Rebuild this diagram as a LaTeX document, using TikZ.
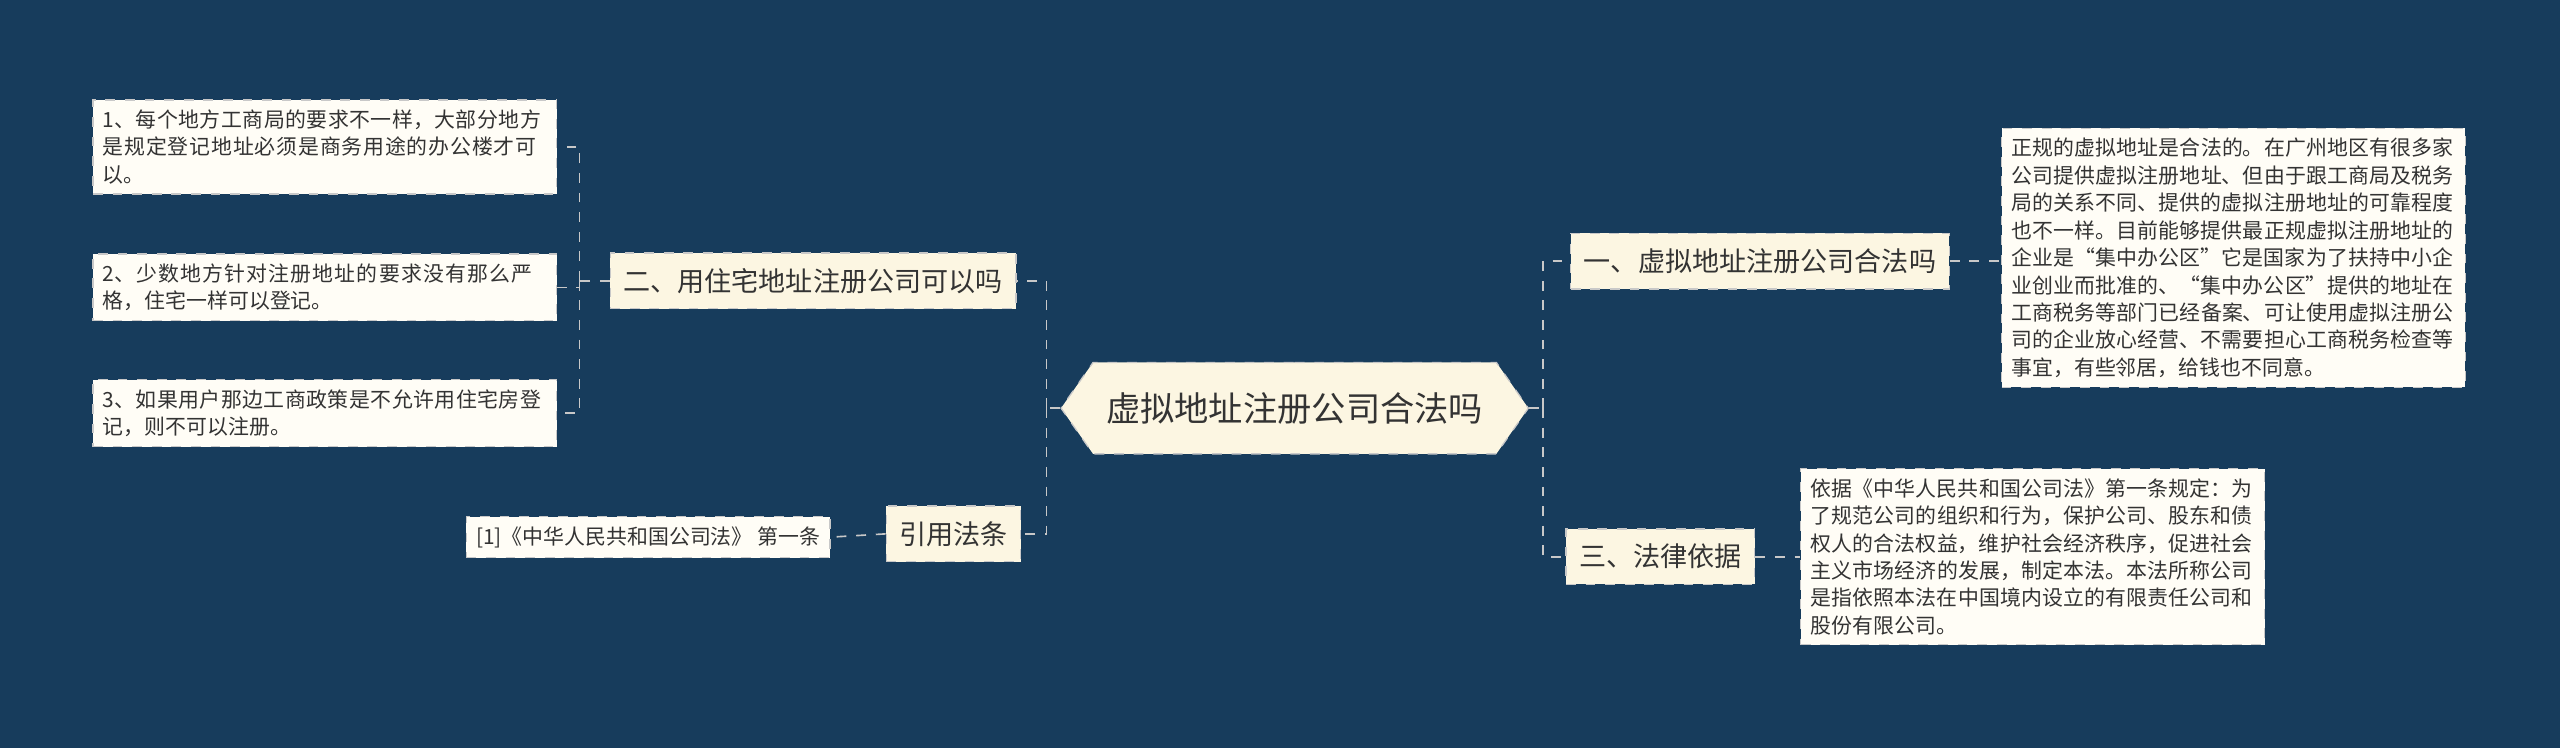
\documentclass[tikz,border=0pt]{standalone}
\usepackage{fontspec}
\setmainfont{Noto Sans CJK SC}
\XeTeXlinebreaklocale "zh"
\XeTeXlinebreakskip=0pt plus 1pt
\usetikzlibrary{shapes.symbols}
\definecolor{bg}{HTML}{173C5C}
\definecolor{cream}{HTML}{FCF6E2}
\definecolor{leaf}{HTML}{FFFDF6}
\definecolor{ln}{HTML}{C8C8C8}
\definecolor{tx}{HTML}{333333}
\tikzset{
 x=0.5pt,y=-0.5pt,
 br/.style={draw=ln,dashed,fill=cream,text=tx,font=\fontsize{8.3}{10}\selectfont,inner xsep=4pt,minimum height=17pt},
 lf/.style={draw=ln,dashed,fill=leaf,text=tx,font=\fontsize{6.4}{8.4}\selectfont,align=left,inner sep=3pt,text width=#1},
 con/.style={draw=ln,dashed,line width=0.5pt}
}
\begin{document}
\begin{tikzpicture}
\fill[bg] (0,0) rectangle (1568,458);
\useasboundingbox (0,0) rectangle (1568,458);
\node[draw=ln,dashed,fill=cream,text=tx,font=\fontsize{10.5}{12}\selectfont,shape=signal,signal to=west and east,signal pointer angle=110,minimum height=28pt,inner xsep=4pt] (c) at (793,250) {虚拟地址注册公司合法吗};
\node[br] (b1) at (498,172) {二、用住宅地址注册公司可以吗};
\node[br] (b2) at (584,327) {引用法条};
\node[br] (b3) at (1078,160) {一、虚拟地址注册公司合法吗};
\node[br] (b4) at (1017,341) {三、法律依据};
\node[lf=136pt] (l1) at (199,90) {1、每个地方工商局的要求不一样，大部分地方是规定登记地址必须是商务用途的办公楼才可以。};
\node[lf=136pt] (l2) at (199,176) {2、少数地方针对注册地址的要求没有那么严格，住宅一样可以登记。};
\node[lf=136pt] (l3) at (199,253) {3、如果用户那边工商政策是不允许用住宅房登记，则不可以注册。};
\node[draw=ln,dashed,fill=leaf,text=tx,font=\fontsize{6.4}{8.4}\selectfont,inner sep=3pt] (l4) at (397,329) {[1]《中华人民共和国公司法》 第一条};
\node[lf=136pt] (r1) at (1368,158) {正规的虚拟地址是合法的。在广州地区有很多家公司提供虚拟注册地址、但由于跟工商局及税务局的关系不同、提供的虚拟注册地址的可靠程度也不一样。目前能够提供最正规虚拟注册地址的企业是“集中办公区”它是国家为了扶持中小企业创业而批准的、“集中办公区”提供的地址在工商税务等部门已经备案、可让使用虚拟注册公司的企业放心经营、不需要担心工商税务检查等事宜，有些邻居，给钱也不同意。};
\node[lf=136pt] (r2) at (1245,341) {依据《中华人民共和国公司法》第一条规定：为了规范公司的组织和行为，保护公司、股东和债权人的合法权益，维护社会经济秩序，促进社会主义市场经济的发展，制定本法。本法所称公司是指依照本法在中国境内设立的有限责任公司和股份有限公司。};
\coordinate (cl) at (641,250);
\coordinate (cr) at (945,250);
\draw[con] (c.west) -- (cl);
\draw[con] (cl) |- (b1.east);
\draw[con] (cl) |- (b2.east);
\draw[con] (c.east) -- (cr);
\draw[con] (cr) |- (b3.west);
\draw[con] (cr) |- (b4.west);
\coordinate (ll) at (355,172);
\draw[con] (b1.west) -- (ll);
\draw[con] (ll) |- (l1.east);
\draw[con] (ll) |- (l2.east);
\draw[con] (ll) |- (l3.east);
\draw[con] (b2.west) -- (l4.east);
\draw[con] (b3.east) -- (r1.west |- b3.east);
\draw[con] (b4.east) -- (r2.west);
\end{tikzpicture}
\end{document}
